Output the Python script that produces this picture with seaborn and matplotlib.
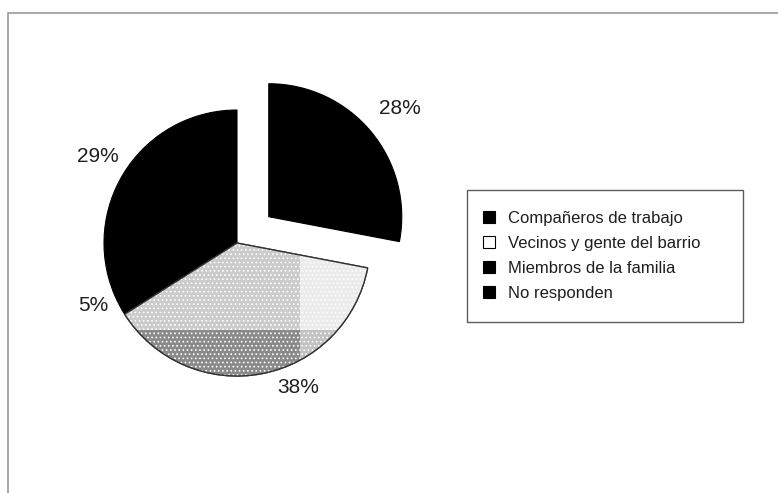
import matplotlib
matplotlib.use("Agg")
import matplotlib.pyplot as plt
from matplotlib.patches import Rectangle, Wedge
from matplotlib.lines import Line2D
import numpy as np
import seaborn as sns

categories = ["Compañeros de trabajo", "Vecinos y gente del barrio",
              "Miembros de la familia", "No responden"]
shares = [28, 38, 5, 29]
pct_labels = ["28%", "38%", "5%", "29%"]
slice_colors = ["black", "#d6d6d6", "black", "black"]
legend_faces = ["black", "white", "black", "black"]
exploded = [0.31, 0, 0, 0]

sns.set_theme(style="white")
plt.rcParams["font.family"] = ["Liberation Sans", "DejaVu Sans"]

W, H = 778, 493
fig = plt.figure(figsize=(W / 100, H / 100), dpi=100)
fig.patch.set_facecolor("white")

# axes spanning the whole figure; 1 data unit = R pixels, pie centre at (cx, cy) px
cx, cy, R = 237, 243, 133
ax = fig.add_axes([0, 0, 1, 1])
wedges, _ = ax.pie(shares, colors=slice_colors, startangle=90, counterclock=False,
                   explode=exploded, radius=1,
                   wedgeprops=dict(linewidth=0.8, edgecolor="black"))
ax.set_aspect("auto")
ax.set_xlim(-cx / R, (W - cx) / R)
ax.set_ylim(-(H - cy) / R, cy / R)
ax.axis("off")

# stippled shading inside the neighbours slice
nb = wedges[1]
nb.set_edgecolor("#444444")
nb.set_linewidth(1.0)
split_x = (300 - cx) / R
split_y = (cy - 330) / R
shades = [((-1.1, split_y), split_x + 1.1, 1.2, "#cbcbcb"),
          ((split_x, split_y), 1.2, 1.2, "#ebebeb"),
          ((-1.1, -1.2), split_x + 1.1, split_y + 1.2, "#8a8a8a"),
          ((split_x, -1.2), 1.2, split_y + 1.2, "#c2c2c2")]
for (xy, w, h, c) in shades:
    r = Rectangle(xy, w, h, facecolor=c, edgecolor="none", zorder=1.5)
    ax.add_patch(r)
    r.set_clip_path(nb)
plt.rcParams["hatch.color"] = "#6f6f6f"
plt.rcParams["hatch.linewidth"] = 0.7
dots = Wedge(nb.center, nb.r, nb.theta1, nb.theta2, facecolor="none",
             hatch="....", linewidth=0, zorder=1.6)
ax.add_patch(dots)
outline = Wedge(nb.center, nb.r, nb.theta1, nb.theta2, facecolor="none",
                edgecolor="#333333", linewidth=1.0, zorder=1.7)
ax.add_patch(outline)

# percentage labels placed radially around each slice
label_shift = [0, 12, 0, 6]
label_dist = [1.28, 1.18, 1.18, 1.23]
for i, w in enumerate(wedges):
    mid = np.deg2rad((w.theta1 + w.theta2) / 2 + label_shift[i])
    x0, y0 = w.center
    ax.text(x0 + label_dist[i] * np.cos(mid), y0 + label_dist[i] * np.sin(mid),
            pct_labels[i], ha="center", va="center", fontsize=15, color="#1e1e1e")

# legend
handles = [Line2D([], [], linestyle="none", marker="s", markersize=8,
                  markerfacecolor=fc, markeredgecolor="black", markeredgewidth=0.8)
           for fc in legend_faces]
leg = fig.legend(handles, categories, loc="upper left",
                 bbox_to_anchor=(467 / W, 1 - 190 / H, (743 - 467) / W, 0),
                 mode="expand", frameon=True,
                 fontsize=12, handlelength=0.1, handletextpad=1.1,
                 labelspacing=0.6, borderpad=1.25, fancybox=False,
                 borderaxespad=0)
leg.get_frame().set_edgecolor("#333333")
leg.get_frame().set_linewidth(1.0)
for t in leg.get_texts():
    t.set_color("#1e1e1e")

# outer frame of the figure
frame = Rectangle((8 / W, -0.05), 1.05, 1 - 13 / H + 0.05, transform=fig.transFigure,
                  facecolor="none", edgecolor="#9a9a9a", linewidth=1.2)
fig.add_artist(frame)

fig.savefig("out.png", dpi=100)
